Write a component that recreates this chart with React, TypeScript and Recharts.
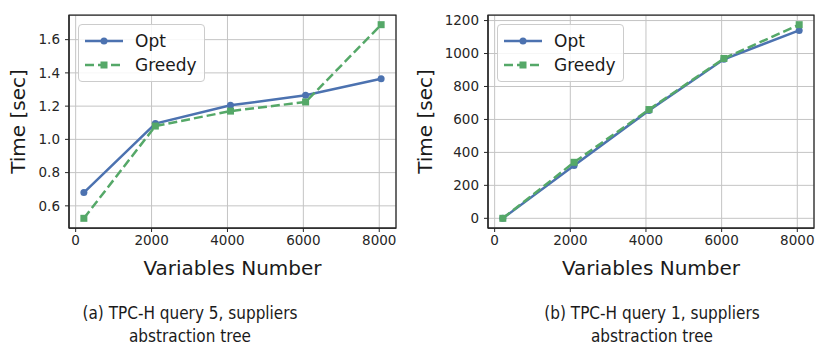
import React from "react";
import {
  LineChart,
  Line,
  XAxis,
  YAxis,
  CartesianGrid,
  ReferenceArea,
  Legend,
} from "recharts";

// Data
const variables = [216, 2100, 4080, 6060, 8050];
const q5Opt = [0.68, 1.095, 1.205, 1.265, 1.365];
const q5Greedy = [0.525, 1.08, 1.17, 1.225, 1.69];
const q1Opt = [0, 320, 655, 965, 1140];
const q1Greedy = [0, 340, 660, 970, 1175];

const xTicks = [0, 2000, 4000, 6000, 8000];
const q5Ticks = [0.6, 0.8, 1.0, 1.2, 1.4, 1.6];
const q1Ticks = [0, 200, 400, 600, 800, 1000, 1200];

const BLUE = "#4C72B0";
const GREEN = "#55A868";
const FONT = "'DejaVu Sans', sans-serif";

// matplotlib style 5% margins
const pad = (vals: number[]): [number, number] => {
  const lo = Math.min(...vals);
  const hi = Math.max(...vals);
  const m = (hi - lo) * 0.05;
  return [lo - m, hi + m];
};

const SquareDot = (props: any) => {
  const { cx, cy, index } = props;
  if (cx == null || cy == null) return null;
  return <rect key={`sq-${index}`} x={cx - 3.5} y={cy - 3.5} width={7} height={7} fill={GREEN} />;
};

const LegendBox = () => (
  <div
    style={{
      border: "1px solid #cccccc",
      borderRadius: 4,
      background: "rgba(255,255,255,0.85)",
      padding: "4px 0 4px 5px",
      fontFamily: FONT,
      fontSize: 17,
      color: "#1a1a1a",
      width: 120,
    }}
  >
    <div style={{ display: "flex", alignItems: "center", height: 24 }}>
      <svg width={40} height={12}>
        <line x1={1} y1={6} x2={39} y2={6} stroke={BLUE} strokeWidth={2.5} />
        <circle cx={20} cy={6} r={3.5} fill={BLUE} />
      </svg>
      <span style={{ marginLeft: 11 }}>Opt</span>
    </div>
    <div style={{ display: "flex", alignItems: "center", height: 24 }}>
      <svg width={40} height={12}>
        <line x1={1} y1={6} x2={39} y2={6} stroke={GREEN} strokeWidth={2.5} strokeDasharray="9 4" />
        <rect x={16.5} y={2.5} width={7} height={7} fill={GREEN} />
      </svg>
      <span style={{ marginLeft: 11 }}>Greedy</span>
    </div>
  </div>
);

type PanelProps = {
  opt: number[];
  greedy: number[];
  yTicks: number[];
  yFormat: (v: number) => string;
  left: number;
  width: number;
  yAxisWidth: number;
  rightMargin: number;
  yLabelOffset: number;
};

function Panel({ opt, greedy, yTicks, yFormat, left, width, yAxisWidth, rightMargin, yLabelOffset }: PanelProps) {
  const data = variables.map((v, i) => ({ x: v, opt: opt[i], greedy: greedy[i] }));
  const xDomain = pad(variables);
  const yDomain = pad([...opt, ...greedy]);
  const tickStyle = { fontSize: 13.5, fill: "#262626", fontFamily: FONT };
  return (
    <div style={{ position: "absolute", left, top: 0 }}>
      <LineChart
        width={width}
        height={290}
        data={data}
        margin={{ top: 15, right: rightMargin, left: 0, bottom: 0 }}
      >
        <CartesianGrid stroke="#c4c4c4" strokeWidth={1} />
        <XAxis
          dataKey="x"
          type="number"
          domain={xDomain}
          ticks={xTicks}
          allowDataOverflow
          height={62}
          tick={tickStyle}
          tickSize={4}
          tickMargin={3}
          stroke="#262626"
          axisLine={{ stroke: "#262626", strokeWidth: 1.25 }}
          label={{
            value: "Variables Number",
            position: "insideBottom",
            offset: 15,
            style: { fontSize: 20, fill: "#1a1a1a", fontFamily: FONT },
          }}
        />
        <YAxis
          type="number"
          domain={yDomain}
          ticks={yTicks}
          allowDataOverflow
          width={yAxisWidth}
          tick={tickStyle}
          tickFormatter={yFormat}
          tickSize={4}
          tickMargin={5}
          stroke="#262626"
          axisLine={{ stroke: "#262626", strokeWidth: 1.25 }}
          label={{
            value: "Time [sec]",
            angle: -90,
            position: "insideLeft",
            offset: yLabelOffset,
            style: { fontSize: 20, fill: "#1a1a1a", fontFamily: FONT, textAnchor: "middle" },
          }}
        />
        <ReferenceArea
          x1={xDomain[0]}
          x2={xDomain[1]}
          y1={yDomain[0]}
          y2={yDomain[1]}
          fill="none"
          stroke="#262626"
          strokeWidth={1.25}
          ifOverflow="visible"
        />
        <Legend
          layout="horizontal"
          verticalAlign="middle"
          align="center"
          wrapperStyle={{ position: "absolute", left: yAxisWidth + 9, top: 24, width: 126 }}
          content={() => <LegendBox />}
        />
        <Line
          dataKey="opt"
          name="Opt"
          stroke={BLUE}
          strokeWidth={2.5}
          dot={{ r: 3.5, fill: BLUE, stroke: "none" }}
          isAnimationActive={false}
        />
        <Line
          dataKey="greedy"
          name="Greedy"
          stroke={GREEN}
          strokeWidth={2.5}
          strokeDasharray="9 4"
          dot={<SquareDot />}
          isAnimationActive={false}
        />
      </LineChart>
    </div>
  );
}

const Caption = ({ center, lines }: { center: number; lines: string[] }) => (
  <div
    style={{
      position: "absolute",
      left: center - 200,
      top: 301,
      width: 400,
      textAlign: "center",
      fontFamily: FONT,
      fontSize: 18,
      lineHeight: "23px",
      color: "#1a1a1a",
      transform: "scaleX(0.85)",
    }}
  >
    {lines.map((l) => (
      <div key={l}>{l}</div>
    ))}
  </div>
);

export default function App() {
  return (
    <div
      style={{
        position: "absolute",
        left: 0,
        top: 0,
        width: 830,
        height: 357,
        background: "#fff",
        overflow: "hidden",
      }}
    >
      <Panel
        opt={q5Opt}
        greedy={q5Greedy}
        yTicks={q5Ticks}
        yFormat={(v) => v.toFixed(1)}
        left={0}
        width={410}
        yAxisWidth={69}
        rightMargin={14}
        yLabelOffset={18}
      />
      <Panel
        opt={q1Opt}
        greedy={q1Greedy}
        yTicks={q1Ticks}
        yFormat={(v) => String(v)}
        left={410}
        width={420}
        yAxisWidth={78}
        rightMargin={16}
        yLabelOffset={15}
      />
      <Caption center={190} lines={["(a) TPC-H query 5, suppliers", "abstraction tree"]} />
      <Caption center={652} lines={["(b) TPC-H query 1, suppliers", "abstraction tree"]} />
    </div>
  );
}
